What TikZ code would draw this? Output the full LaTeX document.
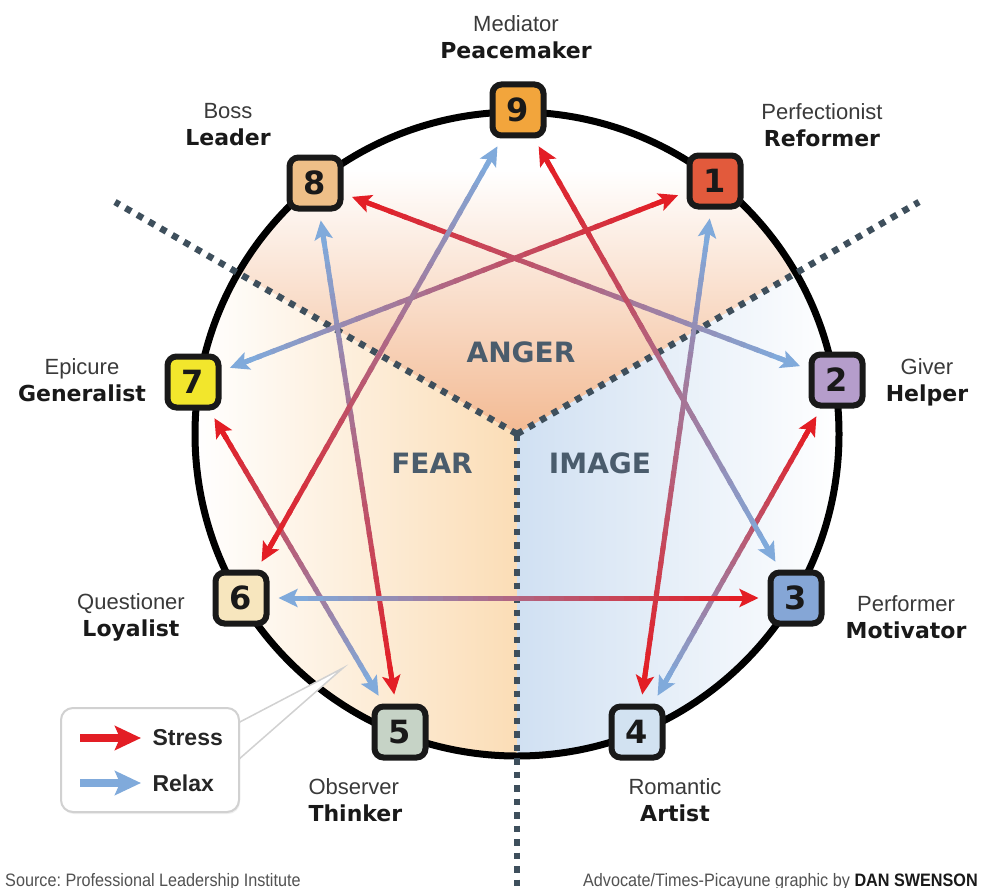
\documentclass[tikz,border=0pt]{standalone}
\usepackage{fontspec}
\setmainfont{Liberation Sans}
\newfontfamily\heavyf{DejaVu Sans}
\newfontfamily\condf[FakeStretch=0.9]{Liberation Sans}
\usetikzlibrary{calc,arrows.meta,shadows}
\frenchspacing

\definecolor{stressred}{HTML}{E31E25}
\definecolor{relaxblue}{HTML}{80AADB}
\definecolor{angerfill}{HTML}{F3BA93}
\definecolor{fearfill}{HTML}{FBDDB6}
\definecolor{imagefill}{HTML}{D0E0F2}
\definecolor{slate}{HTML}{4A5C6C}
\definecolor{dotgray}{HTML}{3E4F5C}
\definecolor{labelgray}{HTML}{3A3A3A}
\definecolor{c1}{HTML}{E25A3C}
\definecolor{c2}{HTML}{B59DCB}
\definecolor{c3}{HTML}{85A6D6}
\definecolor{c4}{HTML}{D2E2F1}
\definecolor{c5}{HTML}{C6D3C6}
\definecolor{c6}{HTML}{F7E6BE}
\definecolor{c7}{HTML}{F2E62C}
\definecolor{c8}{HTML}{EEBF88}
\definecolor{c9}{HTML}{F2A53C}

\begin{document}
\begin{tikzpicture}[x=1pt, y=-1pt,
    numbox/.style={draw=black!90, line width=6pt, rounded corners=9pt, minimum size=51pt,
                   inner sep=0pt, text=black!90, font=\heavyf\bfseries\fontsize{32}{32}\selectfont},
    tag/.style={align=center, text=black!90, font=\fontsize{22}{27}\selectfont},
    zone/.style={text=slate, font=\heavyf\bfseries\fontsize{28}{28}\selectfont},
    divider/.style={dotgray, line width=6.5pt, dash pattern=on 6.5pt off 7pt},
    chordline/.style={line width=5pt},
    chordtip/.style={-{Stealth[length=19pt, width=18pt, inset=4pt]}},
    keyarrow/.style={line width=8pt, -{Stealth[length=26pt, width=24pt, inset=5pt]}},
    keytext/.style={anchor=west, text=black!85, font=\bfseries\fontsize{23}{23}\selectfont}]
\useasboundingbox (0,0) rectangle (982,888);
\fill[white] (0,0) rectangle (982,888);

\coordinate (hub) at (517,434);

% the three zones, faded
\begin{scope}
\clip (hub) circle[radius=322pt];
\shade[top color=white, bottom color=angerfill] (hub) -- (115,202) -- (115,170) -- (919,170) -- (919,202) -- cycle;
\shade[left color=white, right color=fearfill] (hub) -- (195,248) -- (195,770) -- (517,770) -- cycle;
\shade[left color=imagefill, right color=white] (hub) -- (839,248) -- (839,770) -- (517,770) -- cycle;
\end{scope}

\draw[line width=7pt] (hub) circle[radius=322pt];

\draw[divider] (hub) -- (115,202);
\draw[divider] (hub) -- (919,202);
\draw[divider] (hub) -- (517,892);

\node[zone] (anger) at (521,352) {ANGER};
\node[zone] (fear) at (432,463) {FEAR};
\node[zone] (image) at (600,463) {IMAGE};

% the nine points
\node[numbox, fill=c9] (n9) at (518,110) {9};
\node[numbox, fill=c1] (n1) at (715,181) {1};
\node[numbox, fill=c2] (n2) at (837,380) {2};
\node[numbox, fill=c3] (n3) at (796,598) {3};
\node[numbox, fill=c4] (n4) at (637,732) {4};
\node[numbox, fill=c5] (n5) at (400,732) {5};
\node[numbox, fill=c6] (n6) at (241,598) {6};
\node[numbox, fill=c7] (n7) at (193,382) {7};
\node[numbox, fill=c8] (n8) at (315,183) {8};

\node[tag] (t9) at (516,37) {{\color{labelgray}Mediator}\\{\heavyf\bfseries Peacemaker}};
\node[tag] (t1) at (822,125) {{\color{labelgray}Perfectionist}\\{\heavyf\bfseries Reformer}};
\node[tag] (t2) at (927,382) {{\color{labelgray}Giver}\\{\heavyf\bfseries Helper}};
\node[tag] (t3) at (906,617) {{\color{labelgray}Performer}\\{\heavyf\bfseries Motivator}};
\node[tag] (t4) at (675,800) {{\color{labelgray}Romantic}\\{\heavyf\bfseries Artist}};
\node[tag, align=left, anchor=west] (t5) at (305,800) {{\color{labelgray}Observer}\\{\heavyf\bfseries Thinker}};
\node[tag] (t6) at (131,617) {{\color{labelgray}Questioner}\\{\heavyf\bfseries Loyalist}};
\node[tag] (t7) at (82,380) {{\color{labelgray}Epicure}\\{\heavyf\bfseries Generalist}};
\node[tag] (t8) at (228,125) {{\color{labelgray}Boss}\\{\heavyf\bfseries Leader}};

% blue head / red head, blended in between
\foreach \b/\r in {1/4,4/2,2/8,8/5,5/7,7/1,9/6,6/3,3/9}{
  \path (n\b) -- (n\r) coordinate[pos=0] (cb) coordinate[pos=1] (cr);
  \coordinate (tb) at ($(cb)!9pt!(cr)$);
  \coordinate (tr) at ($(cr)!9pt!(cb)$);
  \coordinate (bb) at ($(tb)!14pt!(tr)$);
  \coordinate (br) at ($(tr)!14pt!(tb)$);
  \foreach \k in {0,...,29}{
    \pgfmathsetmacro\fa{\k/30}
    \pgfmathsetmacro\fb{(\k+1.3)/30}
    \pgfmathsetmacro\mix{100*\k/29}
    \draw[chordline, color=stressred!\mix!relaxblue] ($(bb)!\fa!(br)$) -- ($(bb)!\fb!(br)$);
  }
  \draw[chordline, chordtip, relaxblue] ($(tb)!24pt!(tr)$) -- (tb);
  \draw[chordline, chordtip, stressred] ($(tr)!24pt!(tb)$) -- (tr);
}

% key
\coordinate (point) at (343,668);
\filldraw[fill=white, draw=black!18, line width=1.5pt] (236,724) -- (point) -- (238,760);
\node[draw=black!18, line width=2pt, fill=white, rounded corners=12pt, minimum width=178pt,
      minimum height=104pt, drop shadow={opacity=0.12, shadow xshift=1pt, shadow yshift=-2pt}] (key) at (150,760) {};
\coordinate (s0) at (80,738);
\coordinate (s1) at (141,738);
\draw[keyarrow, stressred] (s0) -- (s1);
\node[keytext] (stress) at (149,738) {Stress};
\coordinate (r0) at (80,783);
\coordinate (r1) at (141,783);
\draw[keyarrow, relaxblue] (r0) -- (r1);
\node[keytext] (relax) at (149,783) {Relax};

\node[anchor=base west, inner sep=0pt, text=black!68, font=\condf\fontsize{18}{18}\selectfont] (source)
  at (5,886) {Source: Professional Leadership Institute};
\node[anchor=base east, inner sep=0pt, text=black!68, font=\condf\fontsize{18}{18}\selectfont] (credit)
  at (978,886) {Advocate/Times-Picayune graphic by {\color{black!90}\bfseries DAN SWENSON}};
\end{tikzpicture}
\end{document}
